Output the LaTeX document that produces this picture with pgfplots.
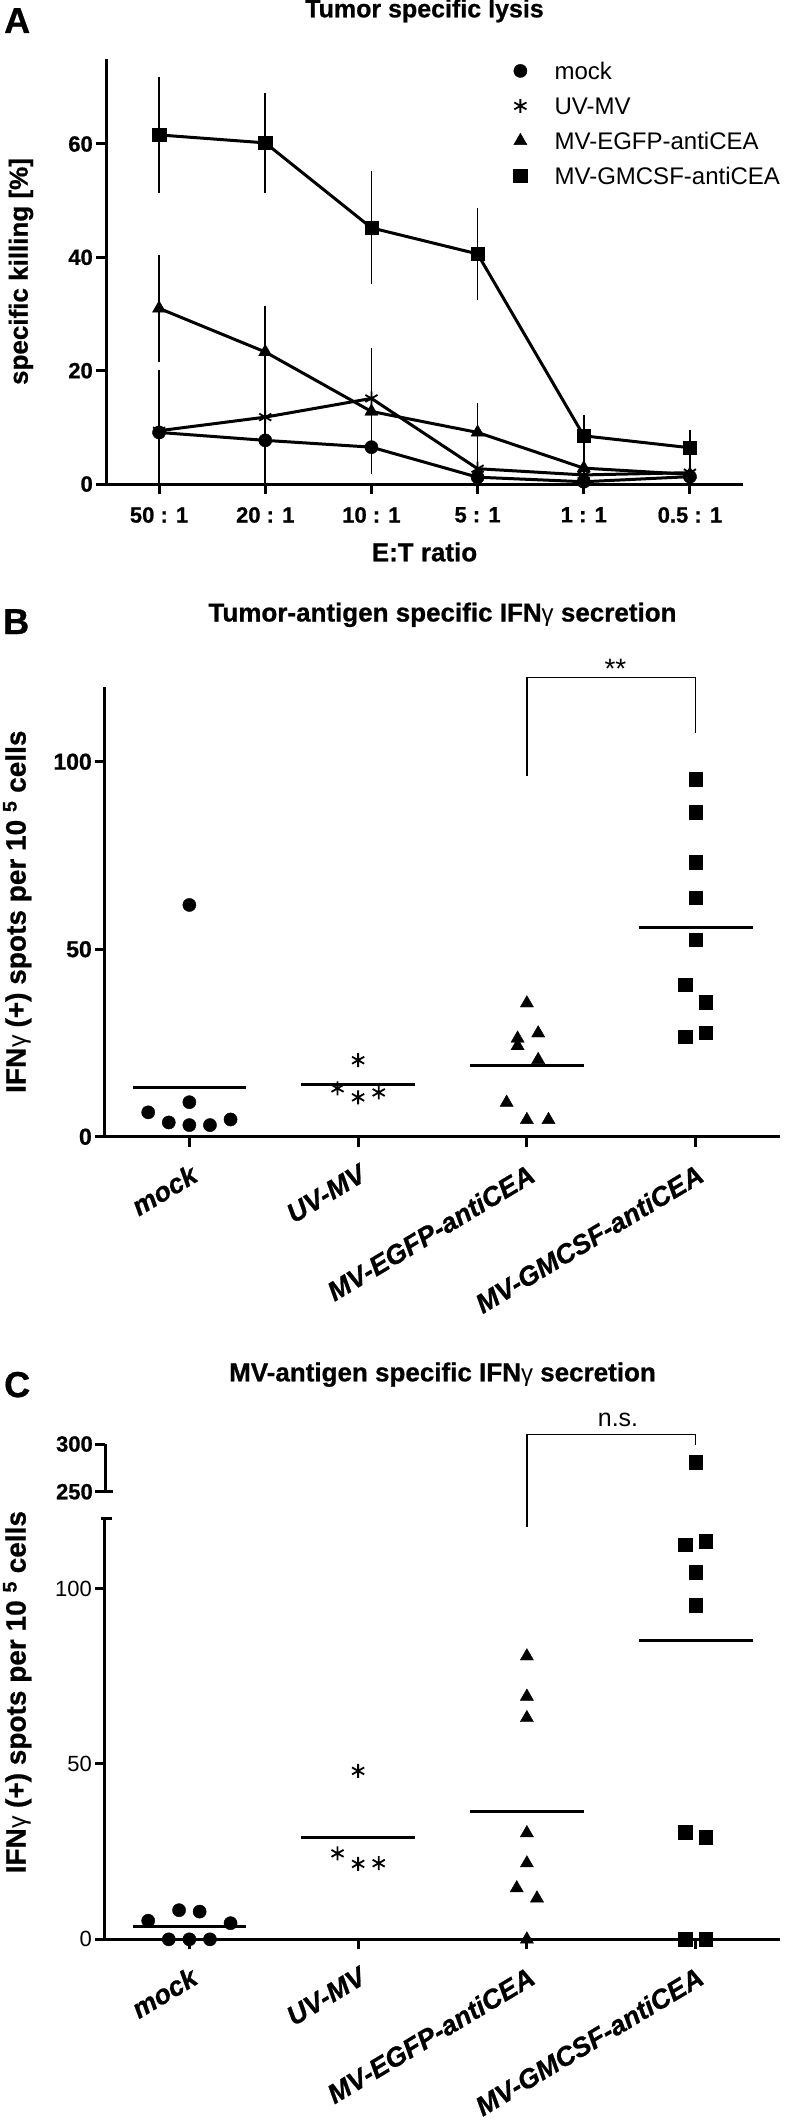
\documentclass[border=0pt]{standalone}
\usepackage{fontspec}
\setmainfont{Liberation Sans}[BoldFeatures={FakeBold=0.8}, BoldItalicFeatures={FakeBold=0.8}]
\usepackage{pgfplots}
\usepackage{pgfplotstable}
\pgfplotsset{compat=1.18}
\newcommand{\fs}[1]{\fontsize{#1}{#1}\selectfont}

% ---------- Panel A data: x, mean, error ----------
\pgfplotstableread{
x y e
0 9.1 3.8
1 7.7 3.5
2 6.5 3.5
3 1.2 0.6
4 0.4 0.5
5 1.3 0.5
}\mockA
\pgfplotstableread{
x y e
0 9.4 9.5
1 11.8 12.0
2 15.1 7.7
3 2.7 2.9
4 1.6 1.0
5 2.0 0.5
}\uvA
\pgfplotstableread{
x y e
0 31.0 8.3
1 23.3 7.0
2 12.8 6.3
3 9.1 4.0
4 2.8 2.1
5 1.7 0.8
}\egA
\pgfplotstableread{
x y e
0 61.6 9.0
1 60.2 7.7
2 45.2 8.8
3 40.6 7.0
4 8.5 2.5
5 6.4 1.9
}\gmA

% ---------- Panel B data ----------
\pgfplotstableread{
x y
-0.244 6.5
-0.122 3.8
0 61.8
0 9.2
0 3.1
0.122 3.1
0.244 4.6
}\mockB
\pgfplotstableread{
x y
1 20.4
0.878 12.9
1 10.5
1.122 11.8
}\uvB
\pgfplotstableread{
x y
2 35.6
2.067 27.6
1.945 26.2
1.945 24.2
2.067 20.5
1.88 9.1
2 4.5
2.128 4.5
}\egB
\pgfplotstableread{
x y
3 95.3
3 86.5
3 73.2
3 63.8
3 52.6
2.937 40.6
3.061 35.9
2.937 26.7
3.061 27.8
}\gmB

% ---------- Panel C data ----------
\pgfplotstableread{
x y
-0.244 5.3
-0.061 8.3
0.061 7.9
0.244 4.6
-0.122 0
0 0
0.122 0
}\mockC
\pgfplotstableread{
x y
1 48.0
0.878 24.5
1 21.5
1.122 21.7
}\uvC
\pgfplotstableread{
x y
2 80.7
2 69.2
2 63.1
2 30.3
2 21.7
1.94 14.6
2.06 11.7
2 0
}\egC
\pgfplotstableread{
x y
2.937 112.5
3.061 113.5
3 104.6
3 95.2
2.937 30.5
3.061 29.1
2.937 0
3.061 0
}\gmC
\pgfplotstableread{
x y
3 281
}\gmCtop

\pgfplotsset{
  panel/.style={
    scale only axis, clip=false,
    axis x line*=bottom, axis y line*=left,
    axis line style={line width=3pt, -, black},
    tick align=outside, major tick length=10pt,
    tick style={black, line width=3pt},
    /pgf/number format/assume math mode=true,
  },
  catlabels/.style={
    xticklabel style={font=\fs{27}\bfseries\itshape, rotate=31, anchor=north east, inner sep=0pt},
    xticklabel shift=16.5pt,
  },
  mk circ/.style={only marks, mark=*, mark size=6.6pt, mark options={solid, fill=black, draw=black, line width=0.4pt}},
  mk ast/.style={only marks, mark=asterisk, mark size=7pt, mark options={solid, draw=black, line width=1.8pt}},
  mk tri/.style={only marks, mark=triangle*, mark size=7.6pt, mark options={solid, fill=black, draw=black, line width=0.4pt}},
  mk sq/.style={only marks, mark=square*, mark size=6.7pt, mark options={solid, fill=black, draw=black, line width=0.4pt}},
  ln/.style={black, line width=3pt},
  ebar/.style={error bars/.cd, y dir=both, y explicit,
     error bar style={line width=1.7pt, black, solid},
     error mark options={line width=1.7pt, black, mark size=6.7pt}, /pgfplots/.cd},
}

\begin{document}
\begin{tikzpicture}
\useasboundingbox (0pt,0pt) rectangle (792pt,-2124pt);

% ================= Panel A =================
\begin{axis}[panel, at={(106pt,-484pt)}, anchor=south west,
  width=637pt, height=425pt,
  xmin=-0.5, xmax=5.5, ymin=0, ymax=75,
  xtick={0,1,2,3,4,5},
  xticklabels={50 : 1, 20 : 1, 10 : 1, 5 : 1, 1 : 1, 0.5 : 1},
  ytick={0,20,40,60},
  xticklabel style={font=\fs{22}\bfseries, inner sep=0pt, yshift=-13pt},
  yticklabel style={font=\fs{22}\bfseries, inner sep=0pt, xshift=-3pt},
  title={Tumor specific lysis},
  title style={font=\fs{25}\bfseries, at={(axis description cs:0.5,1)}, anchor=base, yshift=35.7pt, inner sep=0pt},
  xlabel={E:T ratio},
  xlabel style={font=\fs{26}\bfseries, at={(axis description cs:0.5,0)}, anchor=base, yshift=-77.3pt, inner sep=0pt},
  ylabel={specific killing [\%]},
  ylabel style={font=\fs{26}\bfseries, at={(axis description cs:-0.1334,0.5)}, anchor=center, inner sep=0pt},
  legend style={at={(axis description cs:0.6389,0.9925)}, anchor=north west, draw=none, fill=none,
    inner sep=0pt, row sep=18pt, font=\fs{24},
    nodes={inner sep=0pt, text height=17pt, text depth=0pt}},
  legend cell align=left,
  legend image code/.code={\path (-7pt,0pt) (34pt,0pt); \draw[#1] plot coordinates {(0pt,0pt)};},
]
\addplot[ln, forget plot, mark=*, mark size=6.6pt, mark options={solid, fill=black, line width=0.4pt}, ebar] table[x=x, y=y, y error=e] {\mockA};
\addplot[ln, forget plot, mark=asterisk, mark size=7pt, mark options={solid, line width=1.8pt}, ebar] table[x=x, y=y, y error=e] {\uvA};
\addplot[ln, forget plot, mark=triangle*, mark size=7.6pt, mark options={solid, fill=black, line width=0.4pt}, ebar] table[x=x, y=y, y error=e] {\egA};
\addplot[ln, forget plot, mark=square*, mark size=6.7pt, mark options={solid, fill=black, line width=0.4pt}, ebar] table[x=x, y=y, y error=e] {\gmA};
\addlegendimage{mk circ}\addlegendentry{mock}
\addlegendimage{mk ast}\addlegendentry{UV-MV}
\addlegendimage{mk tri}\addlegendentry{MV-EGFP-antiCEA}
\addlegendimage{mk sq}\addlegendentry{MV-GMCSF-antiCEA}
\end{axis}

% ================= Panel B =================
\begin{axis}[panel, catlabels, at={(105pt,-1136.7pt)}, anchor=south west,
  width=675pt, height=450pt,
  xmin=-0.5, xmax=3.5, ymin=0, ymax=120,
  xtick={0,1,2,3},
  xticklabels={mock, UV-MV, MV-EGFP-antiCEA, MV-GMCSF-antiCEA},
  ytick={0,50,100},
  yticklabel style={font=\fs{23}\bfseries, inner sep=0pt, xshift=-3pt},
  title={Tumor-antigen specific IFN{\mdseries\fs{24}γ} secretion},
  title style={font=\fs{26}\bfseries, at={(axis description cs:0.5,1)}, anchor=base, yshift=59.2pt, inner sep=0pt},
  ylabel={IFN{\mdseries\fs{25}γ} (+) spots per 10 \textsuperscript{5} cells},
  ylabel style={font=\fs{28}\bfseries, at={(axis description cs:-0.130,0.5)}, anchor=center, inner sep=0pt},
]
\addplot[mk circ] table[x=x, y=y] {\mockB};
\addplot[mk ast] table[x=x, y=y] {\uvB};
\addplot[mk tri] table[x=x, y=y] {\egB};
\addplot[mk sq] table[x=x, y=y] {\gmB};
\addplot[ln] coordinates {(-0.337,13.2) (0.337,13.2)};
\addplot[ln] coordinates {(0.663,14.0) (1.337,14.0)};
\addplot[ln] coordinates {(1.663,19.1) (2.337,19.1)};
\addplot[ln] coordinates {(2.663,55.8) (3.337,55.8)};
\draw[line width=1.3pt] (axis cs:2,96.2) -- (axis cs:2,122.5) -- (axis cs:3,122.5) -- (axis cs:3,107.6);
\node[anchor=base, font=\fs{28}, inner sep=0pt] at (axis cs:2.525,122.1) {**};
\end{axis}

% ================= Panel C (upper segment) =================
\begin{axis}[panel, at={(105pt,-1491.7pt)}, anchor=south west,
  width=675pt, height=47.7pt,
  xmin=-0.5, xmax=3.5, ymin=250, ymax=300,
  axis x line=none,
  xtick=\empty, ytick={250,300},
  yticklabel style={font=\fs{22}\bfseries, inner sep=0pt, xshift=-2pt},
  title={MV-antigen specific IFN{\mdseries\fs{24}γ} secretion},
  title style={font=\fs{26}\bfseries, at={(axis description cs:0.5,1)}, anchor=base, yshift=56.7pt, inner sep=0pt},
]
\addplot[mk sq] table[x=x, y=y] {\gmCtop};
\draw[line width=3pt] (axis cs:-0.5,250) -- ++(7.5pt,0pt);
\draw[line width=1.3pt] (axis cs:2,212.5) -- (axis cs:2,310.2) -- (axis cs:3,310.2) -- (axis cs:3,299);
\node[anchor=base, font=\fs{25}, inner sep=0pt] at (axis cs:2.54,318.1) {n.s.};
\end{axis}

% ================= Panel C (lower segment) =================
\begin{axis}[panel, catlabels, at={(105pt,-1939.3pt)}, anchor=south west,
  width=675pt, height=421pt,
  xmin=-0.5, xmax=3.5, ymin=0, ymax=120,
  xtick={0,1,2,3},
  xticklabels={mock, UV-MV, MV-EGFP-antiCEA, MV-GMCSF-antiCEA},
  ytick={0,50,100},
  yticklabel style={font=\fs{22}, inner sep=0pt, xshift=-3pt},
  ylabel={IFN{\mdseries\fs{25}γ} (+) spots per 10 \textsuperscript{5} cells},
  ylabel style={font=\fs{28}\bfseries, at={(axis description cs:-0.130,0.587)}, anchor=center, inner sep=0pt},
]
\addplot[mk circ] table[x=x, y=y] {\mockC};
\addplot[mk ast] table[x=x, y=y] {\uvC};
\addplot[mk tri] table[x=x, y=y] {\egC};
\addplot[mk sq] table[x=x, y=y] {\gmC};
\addplot[ln] coordinates {(-0.337,3.7) (0.337,3.7)};
\addplot[ln] coordinates {(0.663,28.9) (1.337,28.9)};
\addplot[ln] coordinates {(1.663,36.4) (2.337,36.4)};
\addplot[ln] coordinates {(2.663,85.2) (3.337,85.2)};
\draw[line width=3pt] (axis cs:-0.5,120) ++(-3.5pt,0pt) -- ++(11pt,0pt);
\end{axis}

% panel letters
\node[anchor=base west, inner sep=0pt, font=\fs{36}\bfseries] at (4pt,-33pt) {A};
\node[anchor=base west, inner sep=0pt, font=\fs{36}\bfseries] at (3pt,-634pt) {B};
\node[anchor=base west, inner sep=0pt, font=\fs{36}\bfseries] at (4pt,-1397pt) {C};
\end{tikzpicture}
\end{document}
